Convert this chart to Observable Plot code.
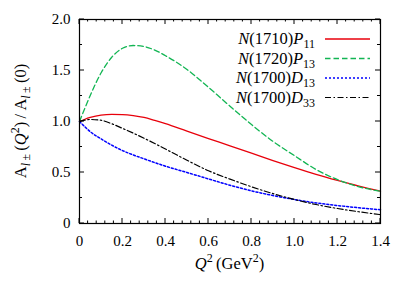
<!DOCTYPE html>
<html><head><meta charset="utf-8">
<script src="https://cdn.jsdelivr.net/npm/d3@7"></script>
<script src="https://cdn.jsdelivr.net/npm/@observablehq/plot@0.6"></script>
<style>body{margin:0;background:#fff} svg text{font-family:"Liberation Serif","Times New Roman",serif !important;}</style>
</head><body><div id="chart"></div>
<script>
// ---- data ----
const q2  = [0, 0.025, 0.05, 0.1, 0.15, 0.2, 0.25, 0.3, 0.35, 0.4, 0.5, 0.6, 0.7, 0.8, 0.9, 1.0, 1.1, 1.2, 1.3, 1.4];
const p11 = [1.0, 1.022, 1.04, 1.063, 1.07, 1.068, 1.058, 1.04, 1.01, 0.978, 0.905, 0.833, 0.762, 0.69, 0.617, 0.548, 0.482, 0.422, 0.366, 0.317];
const p13 = [1.0, 1.13, 1.255, 1.475, 1.63, 1.718, 1.745, 1.735, 1.70, 1.645, 1.51, 1.335, 1.15, 0.97, 0.805, 0.665, 0.53, 0.43, 0.36, 0.315];
const d13 = [1.0, 0.948, 0.90, 0.83, 0.768, 0.715, 0.672, 0.634, 0.597, 0.562, 0.50, 0.437, 0.375, 0.32, 0.274, 0.235, 0.202, 0.176, 0.154, 0.135];
const d33 = [1.0, 1.014, 1.02, 1.012, 0.978, 0.933, 0.886, 0.836, 0.784, 0.73, 0.62, 0.517, 0.435, 0.36, 0.293, 0.235, 0.186, 0.147, 0.115, 0.087];

const seriesMass = ["1710", "1720", "1700", "1700"];
const seriesWave = ["P", "P", "D", "D"];
const seriesSub  = ["11", "13", "13", "33"];
const seriesVals = [p11, p13, d13, d33];
const seriesColor = ["#e8000b", "#12b553", "#0000ff", "#000000"];
const seriesDash  = ["none", "5.5,3", "2,2", "6,2.5,1.5,2.5"];
const seriesWidth = [1.3, 1.3, 1.5, 1.2];

const xTicks = [0, 0.2, 0.4, 0.6, 0.8, 1.0, 1.2, 1.4];
const xTickLabels = ["0", "0.2", "0.4", "0.6", "0.8", "1.0", "1.2", "1.4"];
const yTicks = [0, 0.5, 1.0, 1.5, 2.0];
const yTickLabels = ["0", "0.5", "1.0", "1.5", "2.0"];
const xMinor = d3.range(0, 1.4001, 0.04).filter(v => !xTicks.some(t => Math.abs(t - v) < 1e-6));
const yMinor = [0.25, 0.75, 1.25, 1.75];

const FONT = "'Liberation Serif', 'Times New Roman', serif";

const rows = [];
seriesVals.forEach((vals, s) => vals.forEach((v, i) => rows.push({s, x: q2[i], y: v})));

function decorations(index, scales, values, dims) {
  const {width, height, marginLeft, marginRight, marginTop, marginBottom} = dims;
  const g = d3.create("svg:g").attr("fill", "black");
  const right = width - marginRight, bottom = height - marginBottom;
  // inward ticks on all four sides
  const tk = g.append("g").attr("stroke", "black").attr("stroke-width", 1);
  const xt = (v, len) => {
    const px = scales.x(v);
    tk.append("line").attr("x1", px).attr("x2", px).attr("y1", bottom).attr("y2", bottom - len);
    tk.append("line").attr("x1", px).attr("x2", px).attr("y1", marginTop).attr("y2", marginTop + len);
  };
  const yt = (v, len) => {
    const py = scales.y(v);
    tk.append("line").attr("y1", py).attr("y2", py).attr("x1", marginLeft).attr("x2", marginLeft + len);
    tk.append("line").attr("y1", py).attr("y2", py).attr("x1", right).attr("x2", right - len);
  };
  xTicks.forEach(v => xt(v, 5));
  xMinor.forEach(v => xt(v, 2.5));
  yTicks.forEach(v => yt(v, 5));
  yMinor.forEach(v => yt(v, 3));
  // legend
  seriesMass.forEach((m, i) => {
    const cy = marginTop + 20 + i * 19.5;
    const t = g.append("text").attr("x", right - 65).attr("y", cy + 5)
      .attr("text-anchor", "end").attr("font-size", 16.5);
    t.append("tspan").attr("font-style", "italic").text("N");
    t.append("tspan").text("(" + m + ")");
    t.append("tspan").attr("font-style", "italic").text(seriesWave[i]);
    t.append("tspan").attr("font-size", 12).attr("dy", 4).text(seriesSub[i]);
    g.append("line").attr("x1", right - 55).attr("x2", right - 10)
      .attr("y1", cy).attr("y2", cy)
      .attr("stroke", seriesColor[i]).attr("stroke-width", seriesWidth[i])
      .attr("stroke-dasharray", seriesDash[i]);
  });
  // x label
  const cx = (marginLeft + right) / 2;
  const xl = g.append("text").attr("x", cx).attr("y", bottom + 46)
    .attr("text-anchor", "middle").attr("font-size", 16.5);
  xl.append("tspan").attr("font-style", "italic").text("Q");
  xl.append("tspan").attr("font-size", 12).attr("dy", -7).text("2");
  xl.append("tspan").attr("dy", 7).text("\u2009(GeV");
  xl.append("tspan").attr("font-size", 12).attr("dy", -7).text("2");
  xl.append("tspan").attr("dy", 7).text(")");
  // y label
  const cyl = (marginTop + bottom) / 2;
  const yl = g.append("text").attr("transform", `translate(26,${cyl}) rotate(-90)`)
    .attr("text-anchor", "middle").attr("font-size", 16.5);
  const sub = () => {
    yl.append("tspan").attr("font-size", 12).attr("dy", 4).attr("font-style", "italic").text("l");
    yl.append("tspan").attr("font-size", 12).text("\u2009\u00b1");
  };
  yl.append("tspan").text("A");
  sub();
  yl.append("tspan").attr("dy", -4).text("\u2009(");
  yl.append("tspan").attr("font-style", "italic").text("Q");
  yl.append("tspan").attr("font-size", 12).attr("dy", -7).text("2");
  yl.append("tspan").attr("dy", 7).text(")\u2009/\u2009A");
  sub();
  yl.append("tspan").attr("dy", -4).text("\u2009(0)");
  return g.node();
}

const chart = Plot.plot({
  width: 409, height: 292,
  marginLeft: 79, marginRight: 29, marginTop: 19, marginBottom: 69,
  style: {fontFamily: FONT, fontSize: "15px", background: "white", color: "black"},
  x: {domain: [0, 1.4]},
  y: {domain: [0, 2]},
  marks: [
    ...seriesVals.map((_, s) => Plot.line(rows.filter(r => r.s === s), {
      x: "x", y: "y", curve: "monotone-x",
      stroke: seriesColor[s], strokeWidth: seriesWidth[s],
      strokeDasharray: seriesDash[s] === "none" ? null : seriesDash[s]
    })),
    Plot.frame({stroke: "black", strokeWidth: 1.2}),
    Plot.axisX({anchor: "bottom", ticks: xTicks, tickSize: 0, tickPadding: 12, fontSize: 15,
      tickFormat: d => xTickLabels[xTicks.findIndex(t => Math.abs(t - d) < 1e-9)], label: null}),
    Plot.axisY({anchor: "left", ticks: yTicks, tickSize: 0, tickPadding: 9, fontSize: 15,
      tickFormat: d => yTickLabels[yTicks.findIndex(t => Math.abs(t - d) < 1e-9)], label: null}),
    decorations
  ]
});
document.getElementById("chart").appendChild(chart);
</script>
</body></html>
